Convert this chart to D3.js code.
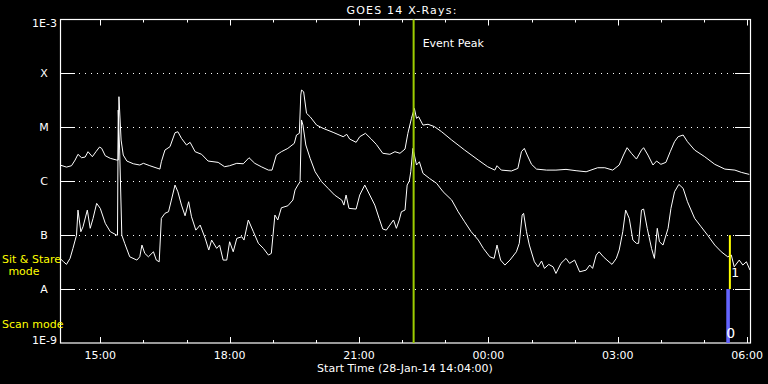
<!DOCTYPE html>
<html>
<head>
<meta charset="utf-8">
<script src="https://cdn.jsdelivr.net/npm/d3@7"></script>
<style>
  html, body { margin: 0; padding: 0; background: #000; }
  svg { display: block; }
  text { font-family: "DejaVu Sans", sans-serif; font-size: 11px; fill: #fff; }
</style>
</head>
<body>
<div id="chart"></div>
<script>
/* ── GOES 14 X-ray flux, 28-Jan-14 ─────────────────────────── */

// minutes after 14:04 UT, long channel (1-8 A)
const longT = [0, 9, 16, 21, 25, 30, 35, 39, 45, 50, 55, 58, 63, 70, 79, 81, 82, 85, 88, 93,
  102, 111, 116, 125, 139, 141, 146, 153, 160, 164, 169, 176, 181, 188, 197, 206, 220, 229, 236, 246,
  255, 263, 271, 280, 290, 295, 301, 308, 317, 326, 329, 333, 335, 336, 339, 343, 348, 357, 366, 380,
  394, 399, 403, 412, 417, 425, 433, 440, 449, 459, 466, 473, 480, 484, 489, 493, 496, 499, 505, 512,
  521, 531, 545, 563, 582, 595, 605, 608, 614, 628, 637, 642, 646, 650, 656, 663, 677, 690, 704, 718,
  732, 748, 758, 769, 778, 784, 789, 795, 802, 809, 812, 818, 825, 830, 836, 843, 849, 855, 860, 867,
  873, 883, 897, 911, 925, 939, 948, 959];
const longFlux = [2.0e-6, 1.83e-6, 1.94e-6, 2.47e-6, 3.16e-6, 2.73e-6, 2.81e-6, 3.53e-6, 2.85e-6, 3.53e-6,
  4.31e-6, 4.07e-6, 2.97e-6, 2.66e-6, 2.47e-6, 2.47e-6, 3.7e-5, 5.81e-6, 3.06e-6, 2.37e-6,
  2.11e-6, 2.0e-6, 2.15e-6, 1.94e-6, 1.68e-6, 2.30e-6, 3.79e-6, 4.37e-6, 7.94e-6, 8.28e-6,
  6.25e-6, 4.70e-6, 5.27e-6, 3.53e-6, 3.16e-6, 2.37e-6, 2.24e-6, 1.86e-6, 1.94e-6, 2.15e-6,
  2.11e-6, 2.73e-6, 2.15e-6, 1.86e-6, 1.61e-6, 1.61e-6, 3.06e-6, 3.53e-6, 4.07e-6, 5.05e-6,
  7.2e-6, 7.74e-6, 3.97e-5, 4.92e-5, 4.57e-5, 1.82e-5, 1.57e-5, 1.10e-5, 9.58e-6, 8.07e-6,
  6.70e-6, 7.41e-6, 6.07e-6, 5.27e-6, 6.70e-6, 7.74e-6, 6.07e-6, 4.84e-6, 3.30e-6, 3.16e-6,
  3.53e-6, 3.30e-6, 3.95e-6, 7.74e-6, 1.47e-5, 2.25e-5, 1.47e-5, 1.57e-5, 1.10e-5, 1.14e-5,
  1.03e-5, 8.28e-6, 5.81e-6, 3.79e-6, 2.47e-6, 1.86e-6, 1.61e-6, 1.94e-6, 1.61e-6, 1.55e-6,
  1.73e-6, 3.53e-6, 4.07e-6, 3.06e-6, 2.06e-6, 1.68e-6, 1.61e-6, 1.61e-6, 1.66e-6, 1.57e-6,
  1.50e-6, 1.78e-6, 1.78e-6, 1.61e-6, 2.0e-6, 3.06e-6, 4.19e-6, 3.30e-6, 2.58e-6, 3.79e-6,
  4.19e-6, 3.06e-6, 2.0e-6, 2.37e-6, 2.06e-6, 2.24e-6, 3.53e-6, 5.41e-6, 6.70e-6, 7.2e-6,
  5.41e-6, 3.79e-6, 2.85e-6, 2.06e-6, 1.68e-6, 1.61e-6, 1.46e-6, 1.34e-6];

// minutes after 14:04 UT, short channel (0.5-4 A)
const shortT = [0, 5, 9, 14, 18, 23, 25, 29, 32, 38, 42, 46, 51, 56, 63, 70, 79, 80, 81, 83,
  86, 90, 97, 107, 111, 114, 118, 123, 130, 134, 138, 141, 146, 151, 155, 160, 164, 169, 174, 179,
  183, 189, 195, 202, 207, 211, 218, 222, 227, 232, 236, 241, 246, 253, 256, 262, 269, 276, 283, 290,
  294, 299, 303, 308, 317, 324, 327, 331, 334, 336, 338, 342, 348, 355, 364, 373, 382, 392, 395, 398,
  402, 412, 417, 424, 431, 438, 444, 449, 454, 459, 464, 468, 472, 475, 480, 483, 486, 488, 491, 496,
  500, 505, 514, 524, 533, 545, 554, 563, 572, 582, 589, 598, 604, 608, 613, 619, 626, 635, 639, 643,
  645, 649, 653, 660, 665, 670, 674, 680, 686, 690, 697, 704, 709, 716, 723, 732, 737, 741, 746, 750,
  756, 761, 768, 774, 778, 783, 787, 792, 797, 802, 805, 809, 812, 817, 823, 827, 831, 834, 839, 846,
  850, 855, 861, 867, 873, 883, 892, 901, 911, 920, 929, 934, 938, 945, 950, 955, 960];
const shortFlux = [3.71e-8, 3.21e-8, 2.87e-8, 3.71e-8, 5.69e-8, 1.0e-7, 2.92e-7, 1.16e-7, 1.43e-7, 2.92e-7,
  1.34e-7, 2.05e-7, 3.89e-7, 3.14e-7, 1.66e-7, 1.16e-7, 1.0e-7, 1.0e-7, 2.09e-5, 3.79e-6,
  1.0e-7, 7.05e-8, 3.97e-8, 3.45e-8, 3.97e-8, 6.55e-8, 4.59e-8, 3.97e-8, 4.92e-8, 3.45e-8,
  3.21e-8, 2.05e-7, 2.54e-7, 2.72e-7, 4.48e-7, 8.50e-7, 6.38e-7, 3.61e-7, 2.29e-7, 4.17e-7,
  2.19e-7, 1.24e-7, 1.54e-7, 8.73e-8, 5.30e-8, 8.11e-8, 5.69e-8, 6.55e-8, 3.45e-8, 3.45e-8,
  7.55e-8, 4.92e-8, 8.73e-8, 9.33e-8, 8.11e-8, 1.91e-7, 1.16e-7, 7.05e-8, 5.69e-8, 4.27e-8,
  4.59e-8, 2.36e-7, 1.91e-7, 3.22e-7, 3.51e-7, 4.48e-7, 6.87e-7, 8.50e-7, 9.79e-7, 1.37e-5,
  1.10e-5, 4.70e-6, 2.66e-6, 1.50e-6, 9.79e-7, 7.38e-7, 5.55e-7, 4.48e-7, 3.61e-7, 5.55e-7,
  3.14e-7, 3.05e-7, 5.55e-7, 8.50e-7, 5.55e-7, 3.61e-7, 2.05e-7, 1.30e-7, 1.24e-7, 1.54e-7,
  1.91e-7, 1.34e-7, 1.91e-7, 2.72e-7, 2.92e-7, 8.50e-7, 1.01e-6, 1.50e-6, 4.07e-6, 2.0e-6,
  2.30e-6, 1.40e-6, 1.13e-6, 9.14e-7, 6.38e-7, 4.48e-7, 2.72e-7, 1.77e-7, 1.16e-7, 8.11e-8,
  5.69e-8, 3.97e-8, 3.71e-8, 6.55e-8, 3.45e-8, 2.79e-8, 3.45e-8, 4.92e-8, 7.05e-8, 2.36e-7,
  2.54e-7, 1.16e-7, 6.55e-8, 3.21e-8, 2.59e-8, 3.31e-8, 2.42e-8, 2.87e-8, 2.59e-8, 1.95e-8,
  3.0e-8, 3.71e-8, 3.0e-8, 3.45e-8, 2.09e-8, 2.25e-8, 2.79e-8, 2.42e-8, 4.27e-8, 4.92e-8,
  3.97e-8, 3.45e-8, 2.87e-8, 3.71e-8, 5.30e-8, 1.16e-7, 2.92e-7, 2.05e-7, 8.11e-8, 7.05e-8,
  7.05e-8, 2.92e-7, 3.05e-7, 1.34e-7, 5.69e-8, 3.71e-8, 1.34e-7, 7.55e-8, 6.55e-8, 1.34e-7,
  3.14e-7, 6.38e-7, 8.75e-7, 7.38e-7, 4.17e-7, 2.05e-7, 1.43e-7, 1.0e-7, 6.55e-8, 4.92e-8,
  3.97e-8, 4.27e-8, 2.59e-8, 3.45e-8, 2.79e-8, 3.21e-8, 2.25e-8];

// flare classes on the log axis
const levelFlux   = [1e-3, 1e-4, 1e-5, 1e-6, 1e-7, 1e-8, 1e-9];
const levelLabels = ['1E-3', 'X', 'M', 'C', 'B', 'A', '1E-9'];

const eventPeakMin = 492;          // 22:16 UT
const scanModeMin  = [927, 932];   // blue bar, mode 0
const sitStareMin  = 932;          // yellow bar, mode 1

// ── layout ───────────────────────────────────────────────────
const W = 768, H = 384;
const X0 = 60, X1 = 750, Y0 = 19.5, Y1 = 343;

const start = Date.UTC(2014, 0, 28, 14, 4);
const at = m => new Date(start + m * 60000);

const x = d3.scaleUtc().domain([at(0), at(960)]).range([X0, X1]);
const y = d3.scaleLog().domain([1e-9, 1e-3]).range([Y1, Y0]);

const svg = d3.select('#chart').append('svg').attr('width', W).attr('height', H);
svg.append('rect').attr('width', W).attr('height', H).attr('fill', '#000');

// dotted grid + short solid ticks on both sides
const inner = [1e-4, 1e-5, 1e-6, 1e-7, 1e-8];
svg.selectAll('.grid').data(inner).enter().append('line')
  .attr('x1', X0 + 19).attr('x2', X1 - 15)
  .attr('y1', d => Math.round(y(d)) + 0.5).attr('y2', d => Math.round(y(d)) + 0.5)
  .attr('stroke', '#fff').attr('stroke-width', 1).attr('stroke-dasharray', '1,5');
svg.selectAll('.ltick').data(inner).enter().append('line')
  .attr('x1', X0).attr('x2', X0 + 15)
  .attr('y1', d => Math.round(y(d)) + 0.5).attr('y2', d => Math.round(y(d)) + 0.5)
  .attr('stroke', '#fff');
svg.selectAll('.rtick').data(inner).enter().append('line')
  .attr('x1', X1 - 15).attr('x2', X1)
  .attr('y1', d => Math.round(y(d)) + 0.5).attr('y2', d => Math.round(y(d)) + 0.5)
  .attr('stroke', '#fff');

// time ticks, top and bottom
const hours = d3.utcHour.range(at(0), at(961));
const isMajor = d => d.getUTCHours() % 3 === 0;
svg.selectAll('.btick').data(hours).enter().append('line')
  .attr('x1', d => Math.round(x(d)) + 0.5).attr('x2', d => Math.round(x(d)) + 0.5)
  .attr('y1', Y1).attr('y2', d => Y1 - (isMajor(d) ? 6 : 3))
  .attr('stroke', '#fff');
svg.selectAll('.ttick').data(hours).enter().append('line')
  .attr('x1', d => Math.round(x(d)) + 0.5).attr('x2', d => Math.round(x(d)) + 0.5)
  .attr('y1', Y0).attr('y2', d => Y0 + (isMajor(d) ? 6 : 3))
  .attr('stroke', '#fff');
svg.selectAll('.tlabel').data(hours.filter(isMajor)).enter().append('text')
  .attr('x', d => x(d)).attr('y', 359).attr('text-anchor', 'middle')
  .text(d3.utcFormat('%H:%M'));

// frame
svg.append('rect')
  .attr('x', X0 + 0.5).attr('y', Y0).attr('width', X1 - X0).attr('height', Y1 - Y0)
  .attr('fill', 'none').attr('stroke', '#fff').attr('stroke-width', 1.2);

// level labels
svg.selectAll('.llabel').data(levelFlux).enter().append('text')
  .attr('x', (d, i) => (i === 0 || i === 6) ? 57 : 44)
  .attr('y', (d, i) => y(d) + (i === 0 ? 7.5 : i === 6 ? 1 : 4))
  .attr('text-anchor', (d, i) => (i === 0 || i === 6) ? 'end' : 'middle')
  .text((d, i) => levelLabels[i]);

// curves
const line = d3.line().x(d => x(at(d[0]))).y(d => y(d[1]));
svg.append('path').datum(d3.zip(longT, longFlux))
  .attr('d', line).attr('fill', 'none').attr('stroke', '#fff').attr('stroke-width', 1);
svg.append('path').datum(d3.zip(shortT, shortFlux))
  .attr('d', line).attr('fill', 'none').attr('stroke', '#fff').attr('stroke-width', 1);

// event peak marker
svg.append('line')
  .attr('x1', x(at(eventPeakMin))).attr('x2', x(at(eventPeakMin)))
  .attr('y1', Y0).attr('y2', Y1)
  .attr('stroke', '#9ccc00').attr('stroke-width', 2);
svg.append('text').attr('x', x(at(eventPeakMin)) + 9).attr('y', 47).text('Event Peak');

// mode bars
svg.append('rect')
  .attr('x', x(at(scanModeMin[0]))).attr('y', y(1e-8))
  .attr('width', x(at(scanModeMin[1])) - x(at(scanModeMin[0]))).attr('height', y(1e-9) - y(1e-8))
  .attr('fill', '#6464ff');
svg.append('line')
  .attr('x1', x(at(sitStareMin))).attr('x2', x(at(sitStareMin)))
  .attr('y1', y(1e-7)).attr('y2', y(1e-8))
  .attr('stroke', '#ffff00').attr('stroke-width', 2);
svg.append('text').attr('x', x(at(sitStareMin)) + 1).attr('y', 277)
  .style('font-family', 'DejaVu Sans Mono').style('font-size', '13px').text('1');
svg.append('text').attr('x', x(at(scanModeMin[0]))).attr('y', 338)
  .style('font-size', '14px').text('0');

// title and axis caption
svg.append('text').attr('x', 402).attr('y', 13.5).attr('text-anchor', 'middle')
  .style('letter-spacing', '1.2px').text('GOES 14 X-Rays:');
svg.append('text').attr('x', 405).attr('y', 372).attr('text-anchor', 'middle')
  .text('Start Time (28-Jan-14 14:04:00)');

// mode legend
svg.append('text').attr('x', 2).attr('y', 263).style('fill', '#ffff00').text('Sit & Stare');
svg.append('text').attr('x', 24).attr('y', 275).attr('text-anchor', 'middle')
  .style('fill', '#ffff00').text('mode');
svg.append('text').attr('x', 2).attr('y', 328).style('fill', '#ffff00').text('Scan mode');
</script>
</body>
</html>
